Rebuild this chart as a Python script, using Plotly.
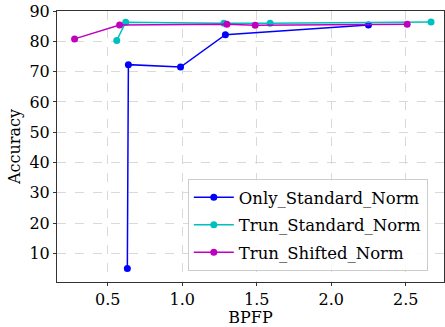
import plotly.graph_objects as go

only_x = [0.632, 0.639, 0.989, 1.29, 2.25]
only_y = [5.05, 72.3, 71.5, 82.2, 85.4]
trun_std_x = [0.561, 0.621, 1.28, 1.59, 2.67]
trun_std_y = [80.3, 86.3, 86.0, 86.0, 86.4]
trun_shift_x = [0.278, 0.58, 1.30, 1.49, 2.51]
trun_shift_y = [80.8, 85.4, 85.6, 85.3, 85.6]

series = [
    ("Only_Standard_Norm", only_x, only_y, "#0000FF"),
    ("Trun_Standard_Norm", trun_std_x, trun_std_y, "#00BFBF"),
    ("Trun_Shifted_Norm", trun_shift_x, trun_shift_y, "#BF00BF"),
]

font = "DejaVu Serif"
fig = go.Figure()
for name, xs, ys, c in series:
    fig.add_trace(go.Scatter(x=xs, y=ys, name=name, mode="lines+markers",
                             legendgroup=name,
                             line=dict(color=c, width=1.5),
                             marker=dict(color=c, size=7)))

axis_common = dict(showline=True, linecolor="#333333", linewidth=1, mirror=True,
                   ticks="outside", ticklen=3, tickcolor="#333333",
                   showgrid=True, gridcolor="#D9D9D9", griddash="dash", gridwidth=1,
                   zeroline=False, tickfont=dict(family=font, size=16, color="black"))

fig.update_layout(
    width=445, height=327,
    margin=dict(l=57, r=1, t=11, b=45),
    paper_bgcolor="white", plot_bgcolor="white",
    font=dict(family=font, size=16, color="black"),
    xaxis=dict(range=[0.16, 2.757], tickvals=[0.5, 1.0, 1.5, 2.0, 2.5],
               ticktext=["0.5", "1.0", "1.5", "2.0", "2.5"],
               title=dict(text="BPFP", font=dict(family=font, size=16), standoff=7),
               **axis_common),
    yaxis=dict(range=[0.6, 90], tickvals=[10, 20, 30, 40, 50, 60, 70, 80, 90],
               title=dict(text="Accuracy", font=dict(family=font, size=16), standoff=4),
               **axis_common),
    legend=dict(x=0.338, y=0.38, xanchor="left", yanchor="top",
                bgcolor="rgba(255,255,255,0.85)", bordercolor="#CCCCCC", borderwidth=1,
                font=dict(family=font, size=16.5, color="black"),
                tracegroupgap=3, itemwidth=40),
    showlegend=True,
)
fig.write_html("out.html", post_script="document.body.style.margin='0';",
               config={"displayModeBar": False})
